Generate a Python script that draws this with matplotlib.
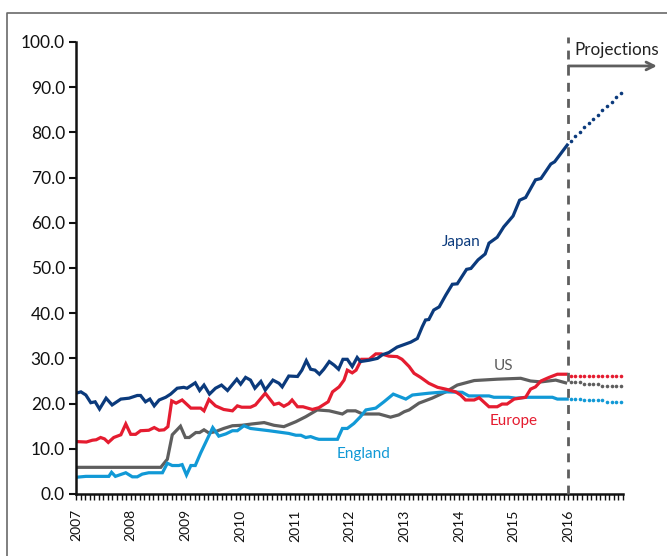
import numpy as np
import matplotlib
matplotlib.use("Agg")
import matplotlib.pyplot as plt
from matplotlib.lines import Line2D
from matplotlib.ticker import MultipleLocator, FormatStrFormatter

plt.rcParams['font.family'] = ['Lato', 'DejaVu Sans']

# --- data ---
japan_t = [2007.00, 2007.09, 2007.18, 2007.27, 2007.35, 2007.43, 2007.55, 2007.66, 2007.82, 2007.97,
           2008.12, 2008.18, 2008.27, 2008.35, 2008.43, 2008.52, 2008.64, 2008.73, 2008.85, 2008.97,
           2009.03, 2009.18, 2009.26, 2009.34, 2009.44, 2009.55, 2009.66, 2009.77, 2009.94, 2010.01,
           2010.10, 2010.19, 2010.27, 2010.38, 2010.46, 2010.60, 2010.71, 2010.77, 2010.89, 2011.05,
           2011.13, 2011.21, 2011.29, 2011.37, 2011.45, 2011.53, 2011.63, 2011.72, 2011.80, 2011.88,
           2011.96, 2012.05, 2012.14, 2012.20, 2012.36, 2012.51, 2012.60, 2012.72, 2012.87, 2013.03,
           2013.12, 2013.24, 2013.33, 2013.39, 2013.45, 2013.54, 2013.64, 2013.76, 2013.88, 2013.97,
           2014.14, 2014.22, 2014.35, 2014.48, 2014.55, 2014.70, 2014.82, 2014.99, 2015.11, 2015.22,
           2015.40, 2015.50, 2015.68, 2015.75, 2015.98]
japan_v = [22.3, 22.6, 21.9, 20.2, 20.4, 18.8, 21.2, 19.7, 21.0, 21.2,
           21.8, 21.8, 20.4, 21.0, 19.5, 20.8, 21.4, 22.1, 23.4, 23.6,
           23.4, 24.6, 22.9, 24.1, 22.1, 23.4, 24.1, 22.9, 25.4, 24.3,
           25.8, 25.2, 23.4, 24.9, 23.0, 25.2, 24.5, 23.7, 26.1, 26.0,
           27.4, 29.5, 27.6, 27.4, 26.5, 27.6, 29.3, 28.5, 27.6, 29.8,
           29.8, 28.2, 30.2, 29.3, 29.6, 30.0, 30.8, 31.3, 32.5, 33.2,
           33.6, 34.4, 37.0, 38.5, 38.6, 40.7, 41.4, 44.0, 46.4, 46.5,
           49.7, 49.9, 51.8, 53.1, 55.5, 56.8, 59.1, 61.5, 65.0, 65.6,
           69.5, 69.8, 73.0, 73.5, 77.2]

europe_t = [2007.00, 2007.19, 2007.30, 2007.37, 2007.45, 2007.52, 2007.59, 2007.69, 2007.82, 2007.91,
            2008.00, 2008.09, 2008.18, 2008.33, 2008.43, 2008.52, 2008.61, 2008.68, 2008.75, 2008.83,
            2008.94, 2009.10, 2009.28, 2009.34, 2009.43, 2009.55, 2009.70, 2009.86, 2009.95, 2010.03,
            2010.19, 2010.28, 2010.46, 2010.62, 2010.71, 2010.80, 2010.89, 2010.95, 2011.05, 2011.15,
            2011.32, 2011.44, 2011.61, 2011.69, 2011.81, 2011.90, 2011.96, 2012.05, 2012.12, 2012.22,
            2012.36, 2012.48, 2012.58, 2012.72, 2012.87, 2012.96, 2013.09, 2013.18, 2013.30, 2013.45,
            2013.61, 2013.76, 2013.94, 2014.03, 2014.12, 2014.28, 2014.37, 2014.55, 2014.70, 2014.79,
            2014.88, 2015.01, 2015.22, 2015.31, 2015.40, 2015.50, 2015.65, 2015.80, 2015.96]
europe_v = [11.6, 11.5, 11.9, 12.0, 12.5, 12.2, 11.4, 12.5, 13.1, 15.5,
            13.2, 13.2, 14.0, 14.1, 14.7, 14.1, 14.2, 14.9, 20.6, 20.1,
            20.8, 19.0, 19.0, 18.4, 20.9, 19.5, 18.7, 18.4, 19.5, 19.2,
            19.2, 19.7, 22.3, 19.8, 20.1, 19.4, 20.0, 20.8, 19.3, 19.3,
            18.7, 19.1, 20.4, 22.6, 23.7, 25.2, 27.4, 26.8, 27.4, 29.8,
            29.8, 31.0, 31.0, 30.5, 30.4, 29.8, 28.2, 26.7, 25.8, 24.5,
            23.6, 23.2, 22.6, 21.9, 20.8, 20.8, 21.3, 19.3, 19.3, 19.9,
            19.9, 21.0, 21.4, 23.2, 23.7, 25.0, 25.8, 26.5, 26.5]

us_t = [2007.00, 2008.55, 2008.67, 2008.76, 2008.91, 2009.00, 2009.07, 2009.19, 2009.26, 2009.34,
        2009.43, 2009.55, 2009.70, 2009.86, 2010.03, 2010.22, 2010.44, 2010.62, 2010.80, 2011.02,
        2011.20, 2011.41, 2011.63, 2011.87, 2011.96, 2012.11, 2012.24, 2012.54, 2012.75, 2012.90,
        2013.00, 2013.09, 2013.27, 2013.51, 2013.76, 2013.97, 2014.28, 2014.70, 2015.13, 2015.31,
        2015.50, 2015.77, 2015.95]
us_v = [5.9, 5.9, 7.7, 13.1, 15.0, 12.5, 12.5, 13.6, 13.6, 14.2,
        13.5, 13.8, 14.5, 15.1, 15.2, 15.5, 15.8, 15.2, 14.9, 16.0,
        17.1, 18.6, 18.4, 17.7, 18.4, 18.4, 17.7, 17.7, 17.0, 17.5,
        18.2, 18.6, 20.1, 21.2, 22.6, 24.1, 25.1, 25.4, 25.6, 25.0,
        24.8, 25.2, 24.6]

england_t = [2007.00, 2007.18, 2007.60, 2007.65, 2007.72, 2007.91, 2008.03, 2008.12, 2008.21, 2008.33,
             2008.58, 2008.67, 2008.76, 2008.88, 2008.94, 2009.02, 2009.10, 2009.18, 2009.28, 2009.50,
             2009.61, 2009.74, 2009.86, 2009.95, 2010.07, 2010.19, 2010.53, 2010.89, 2011.02, 2011.11,
             2011.20, 2011.29, 2011.38, 2011.44, 2011.78, 2011.87, 2011.96, 2012.08, 2012.20, 2012.30,
             2012.48, 2012.63, 2012.80, 2013.03, 2013.15, 2013.45, 2013.76, 2014.06, 2014.18, 2014.55,
             2014.64, 2014.91, 2015.04, 2015.25, 2015.71, 2015.80, 2015.98]
england_v = [3.7, 3.9, 3.9, 4.8, 3.9, 4.7, 3.8, 3.8, 4.4, 4.7,
             4.7, 6.8, 6.3, 6.3, 6.5, 4.2, 6.3, 6.3, 9.1, 14.7,
             12.8, 13.3, 14.0, 14.0, 15.1, 14.5, 14.0, 13.4, 13.0, 13.0,
             12.5, 12.7, 12.3, 12.1, 12.1, 14.5, 14.5, 15.6, 17.1, 18.6,
             19.0, 20.4, 22.1, 21.0, 21.9, 22.3, 22.6, 22.5, 21.7, 21.7,
             21.4, 21.4, 21.2, 21.4, 21.4, 21.0, 21.0]

# projections, one value per month of 2016
proj_t = 2016 + (np.arange(12) + 0.5) / 12
japan_proj = [78.2, 79.2, 80.1, 81.1, 82.0, 83.0, 83.9, 84.9, 85.8, 86.8, 87.8, 88.8]
europe_proj = [26.0] * 12
us_proj = [24.7, 24.7, 24.7, 24.3, 24.3, 24.3, 24.3, 23.8, 23.8, 23.8, 23.8, 23.8]
england_proj = [21.1, 21.1, 21.1, 20.8, 20.8, 20.8, 20.8, 20.8, 20.4, 20.4, 20.4, 20.4]

years = list(range(2007, 2017))

c_japan = '#0b3a7c'
c_europe = '#e51c30'
c_us = '#5e5e5e'
c_england = '#1199d6'

fig = plt.figure(figsize=(6.67, 5.56), dpi=100)
ax = fig.add_axes([76 / 667, 1 - 494 / 556, 547 / 667, 452 / 556])

for t, v, pv, c in [(us_t, us_v, us_proj, c_us),
                    (england_t, england_v, england_proj, c_england),
                    (europe_t, europe_v, europe_proj, c_europe),
                    (japan_t, japan_v, japan_proj, c_japan)]:
    ax.plot(t, v, color=c, lw=2.3, solid_joinstyle='miter')
    ax.plot(proj_t, pv, ls='none', marker='o', ms=2.6, color=c, mec='none')

# projections divider and arrow
ax.plot([2016, 2016], [0, 101], color='#5e5e5e', lw=2, ls=(0, (3.2, 2.6)), clip_on=False, zorder=5)
ax.annotate('', xy=(2017.62, 94.7), xytext=(2016, 94.7), annotation_clip=False,
            arrowprops=dict(arrowstyle='->', color='#5e5e5e', lw=2, mutation_scale=14,
                            shrinkA=0, shrinkB=0))
ax.text(2016.12, 98.2, 'Projections', fontsize=12.3, color='#222222', va='center', ha='left',
        clip_on=False)

# series labels
ax.text(2014.04, 55.7, 'Japan', color=c_japan, fontsize=11, ha='center', va='center')
ax.text(2014.81, 28.3, 'US', color=c_us, fontsize=11, ha='center', va='center')
ax.text(2015.0, 16.2, 'Europe', color=c_europe, fontsize=11, ha='center', va='center')
ax.text(2012.25, 8.8, 'England', color=c_england, fontsize=11, ha='center', va='center')

ax.set_xlim(2007, 2017)
ax.set_ylim(0, 100)
ax.set_xticks(years)
ax.set_xticklabels([str(y) for y in years], rotation=90, fontsize=10)
ax.xaxis.set_minor_locator(MultipleLocator(1 / 12))
ax.yaxis.set_major_locator(MultipleLocator(10))
ax.yaxis.set_major_formatter(FormatStrFormatter('%.1f'))
ax.tick_params(axis='y', labelsize=12.5, length=5, width=1.5, pad=3, colors='#111111')
ax.tick_params(axis='x', which='both', length=4, width=1, pad=7, colors='#111111')

for s in ['top', 'right']:
    ax.spines[s].set_visible(False)
for s in ['left', 'bottom']:
    ax.spines[s].set_linewidth(1.8)
    ax.spines[s].set_color('#111111')

# outer frame (left and top only, as in the source image)
fig.add_artist(Line2D([7 / 667, 7 / 667, 1], [0, 1 - 13 / 556, 1 - 13 / 556],
                      color='#6a6a6a', lw=1.2, transform=fig.transFigure))

fig.savefig('out.png', dpi=100)
